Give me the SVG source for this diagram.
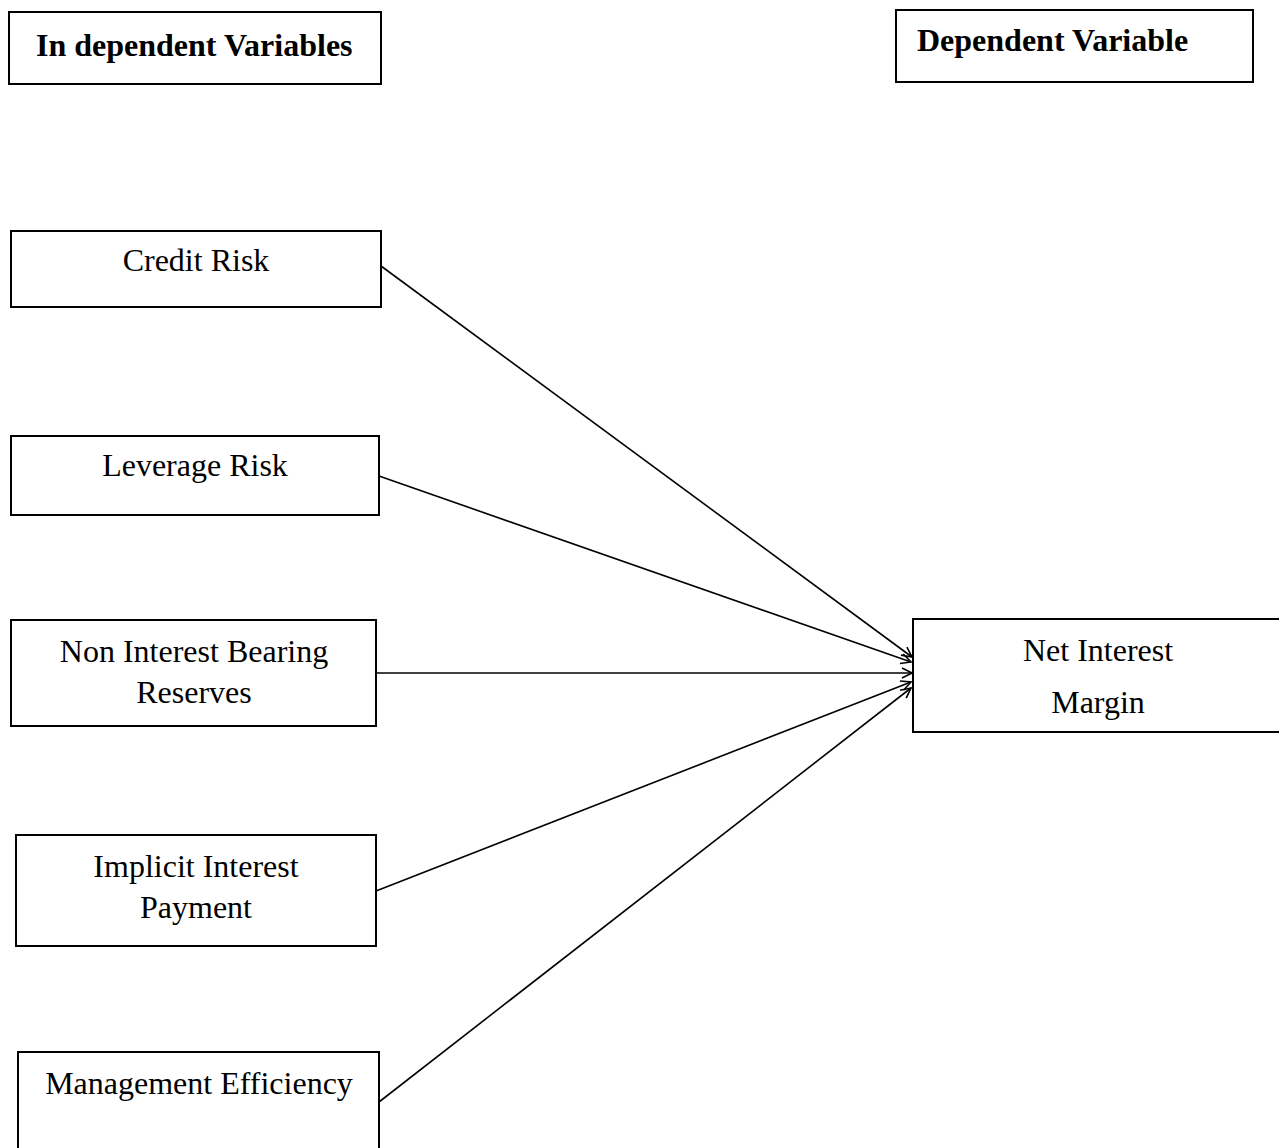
<svg xmlns="http://www.w3.org/2000/svg" width="1279" height="1148" viewBox="0 0 1279 1148">
<style>
.box{fill:#fff;stroke:#000;stroke-width:2}
.t{font-family:"Liberation Serif",serif;font-size:32px;fill:#000;text-anchor:middle}
.h{font-family:"Liberation Serif",serif;font-size:32px;font-weight:bold;fill:#000}
.c{stroke:#000;stroke-width:1.6;fill:none;marker-end:url(#ah)}
</style>
<defs>
<marker id="ah" viewBox="0 0 12 12" refX="11" refY="6" markerWidth="12" markerHeight="12" markerUnits="userSpaceOnUse" orient="auto">
<path d="M1,1 L11,6 L1,11" fill="none" stroke="#000" stroke-width="1.6"/>
</marker>
</defs>
<rect width="1279" height="1148" fill="#fff"/>
<g id="hdr-independent"><rect class="box" x="9" y="12" width="372" height="72"/><text class="h" x="36" y="56">In dependent Variables</text></g>
<g id="hdr-dependent"><rect class="box" x="896" y="10" width="357" height="72"/><text class="h" x="917" y="51">Dependent Variable</text></g>
<g id="credit-risk"><rect class="box" x="11" y="231" width="370" height="76"/><text class="t" x="196" y="271">Credit Risk</text></g>
<g id="leverage-risk"><rect class="box" x="11" y="436" width="368" height="79"/><text class="t" x="195" y="476">Leverage Risk</text></g>
<g id="non-interest"><rect class="box" x="11" y="620" width="365" height="106"/><text class="t" x="194" y="662">Non Interest Bearing</text><text class="t" x="194" y="703">Reserves</text></g>
<g id="implicit-interest"><rect class="box" x="16" y="835" width="360" height="111"/><text class="t" x="196" y="877">Implicit Interest</text><text class="t" x="196" y="918">Payment</text></g>
<g id="management-efficiency"><rect class="box" x="18" y="1052" width="361" height="110"/><text class="t" x="199" y="1094">Management Efficiency</text></g>
<g id="net-interest-margin"><rect class="box" x="913" y="619" width="380" height="113"/><text class="t" x="1098" y="661">Net Interest</text><text class="t" x="1098" y="713">Margin</text></g>
<g id="connectors">
<line class="c" x1="381" y1="266" x2="912" y2="657"/>
<line class="c" x1="379" y1="476" x2="911" y2="662"/>
<line class="c" x1="376" y1="673" x2="912" y2="673"/>
<line class="c" x1="376" y1="891" x2="911" y2="682"/>
<line class="c" x1="379" y1="1102" x2="911" y2="688"/>
</g>
</svg>
